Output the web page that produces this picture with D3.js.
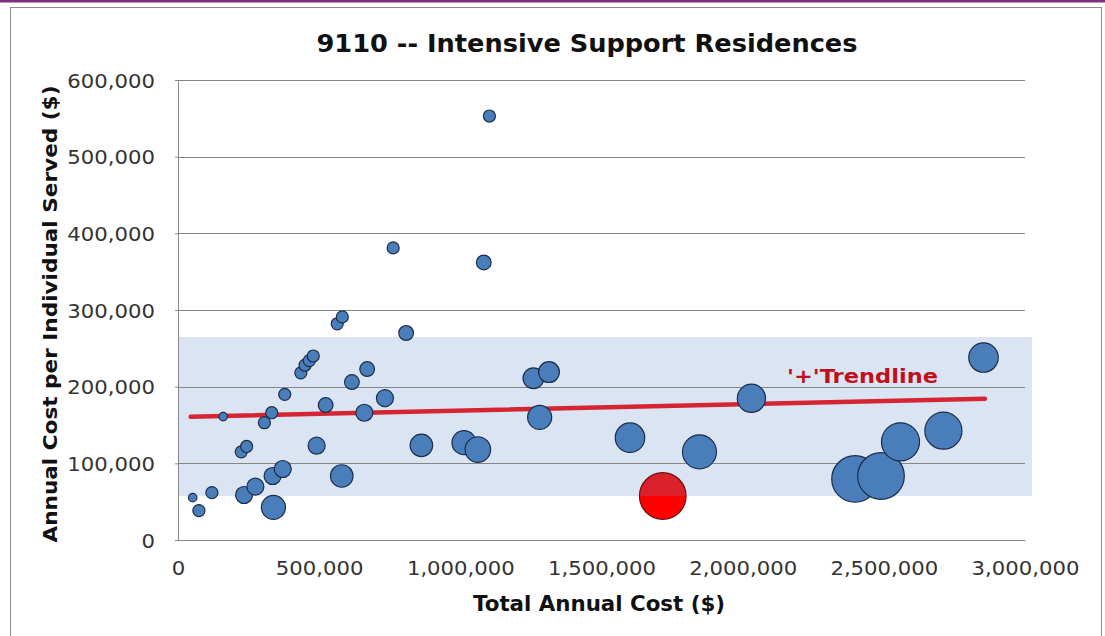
<!DOCTYPE html>
<html>
<head>
<meta charset="utf-8">
<script src="https://cdn.jsdelivr.net/npm/d3@7"></script>
<style>
  html, body { margin: 0; padding: 0; background: #ffffff; }
  svg { display: block; font-family: "DejaVu Sans", Verdana, sans-serif; }
</style>
</head>
<body>
<svg id="chart" width="1105" height="636"></svg>
<script>
// ---- Data ----
const totalCost = [52000, 74000, 120000, 160000, 224000, 234000, 243000, 274000, 306000, 332000,
  335000, 338000, 371000, 378000, 435000, 450000, 465000, 479000, 491000, 523000,
  564000, 580000, 582000, 616000, 660000, 670000, 733000, 762000, 808000, 862000,
  1013000, 1062000, 1083000, 1103000, 1259000, 1281000, 1314000, 1601000, 1717000, 1847000,
  2031000, 2398000, 2490000, 2559000, 2711000, 2853000];
const costPerIndividual = [55200, 38300, 61700, 161000, 115000, 58700, 122000, 69600, 153000, 166000,
  83500, 42600, 92600, 190000, 218000, 228000, 234000, 240000, 123000, 176000,
  282000, 83500, 291000, 206000, 166000, 223000, 185000, 381000, 270000, 123500,
  127000, 118000, 362000, 553000, 211000, 160000, 219000, 133500, 57400, 115000,
  184800, 79600, 83500, 128000, 142600, 238000];
const individualsServed = [1, 2, 2, 1, 2, 4, 2, 4, 2, 2,
  4, 8, 4, 2, 2, 2, 2, 2, 4, 3,
  2, 7, 2, 3, 4, 3, 4, 2, 3, 7,
  8, 9, 3, 2, 6, 8, 6, 12, 30, 16,
  11, 30, 30, 20, 19, 12];
const highlightedIndex = 38;                 // the red bubble
const bandX = [0, 3025000];                  // shaded range band
const bandY = [57400, 264800];
const trendX = [45000, 2858000];             // trendline end points
const trendY = [160800, 184300];
const trendLabel = "'+'Trendline";
const xTicks = [0, 500000, 1000000, 1500000, 2000000, 2500000, 3000000];
const yTicks = [0, 100000, 200000, 300000, 400000, 500000, 600000];
const titleText = "9110 -- Intensive Support Residences";
const xTitle = "Total Annual Cost ($)";
const yTitle = "Annual Cost per Individual Served ($)";

// ---- Layout ----
const svg = d3.select("#chart");
const L = 178, T = 80, R = 1025, B = 540;

const x = d3.scaleLinear().domain([0, 3000000]).range([L, R]);
const y = d3.scaleLinear().domain([0, 600000]).range([B, T]);
const r = d3.scaleSqrt().domain([0, 30]).range([0, 23.3]);
const fmt = d3.format(",");

function fit(sel, w) {
  sel.attr("textLength", w).attr("lengthAdjust", "spacingAndGlyphs");
}

// defs: gradient for highlighted bubble
const defs = svg.append("defs");
const g1 = defs.append("linearGradient").attr("id", "redGrad")
  .attr("x1", 0).attr("y1", 0).attr("x2", 0).attr("y2", 1);
g1.append("stop").attr("offset", "0%").attr("stop-color", "#d8232c");
g1.append("stop").attr("offset", "50%").attr("stop-color", "#dc1f2a");
g1.append("stop").attr("offset", "50%").attr("stop-color", "#ff0000");
g1.append("stop").attr("offset", "100%").attr("stop-color", "#ff0000");

// outer frame
svg.append("rect").attr("x", 0).attr("y", 0).attr("width", 1105).attr("height", 2.5).attr("fill", "#7e2f7d");
svg.append("rect").attr("x", 10.5).attr("y", 7.5).attr("width", 1091).attr("height", 640)
  .attr("fill", "#ffffff").attr("stroke", "#8c8c8c").attr("stroke-width", 1);

// band
svg.append("rect")
  .attr("x", x(bandX[0])).attr("y", y(bandY[1]))
  .attr("width", x(bandX[1]) - x(bandX[0]))
  .attr("height", y(bandY[0]) - y(bandY[1]))
  .attr("fill", "#dae4f2");

// gridlines
svg.append("g").selectAll("line").data(yTicks.filter(d => d > 0)).join("line")
  .attr("x1", L).attr("x2", R)
  .attr("y1", d => Math.round(y(d)) + 0.5).attr("y2", d => Math.round(y(d)) + 0.5)
  .attr("stroke", "#868686").attr("stroke-width", 1);

// axes
const yAxis = svg.append("g").attr("transform", `translate(${L},0)`)
  .call(d3.axisLeft(y).tickValues(yTicks).tickFormat(fmt).tickSize(3).tickPadding(20));
const xAxis = svg.append("g").attr("transform", `translate(0,${B})`)
  .call(d3.axisBottom(x).tickValues(xTicks).tickFormat(fmt).tickSize(0).tickPadding(21));
[yAxis, xAxis].forEach(a => {
  a.select(".domain").attr("stroke", "#868686");
  a.selectAll(".tick line").attr("stroke", "#868686");
  a.selectAll("text").attr("font-size", 20).attr("fill", "#333333")
    .attr("font-family", "'DejaVu Sans', Verdana, sans-serif")
    .each(function () { const w = this.getComputedTextLength(); fit(d3.select(this), w * 1.06); });
});
yAxis.selectAll(".tick text").attr("dy", "0.36em");

// trendline
svg.append("line")
  .attr("x1", x(trendX[0])).attr("y1", y(trendY[0]))
  .attr("x2", x(trendX[1])).attr("y2", y(trendY[1]))
  .attr("stroke", "#d52532").attr("stroke-width", 4.5).attr("stroke-linecap", "round");

// bubbles
const pts = totalCost.map((d, i) => ({ x: d, y: costPerIndividual[i], n: individualsServed[i], hi: i === highlightedIndex }));
svg.append("g").selectAll("circle").data(pts).join("circle")
  .attr("cx", d => x(d.x)).attr("cy", d => y(d.y)).attr("r", d => r(d.n))
  .attr("fill", d => d.hi ? "url(#redGrad)" : "#4a7ebb")
  .attr("stroke", d => d.hi ? "#6e1010" : "#1c2d4a")
  .attr("stroke-width", 1.2);

// trend label
svg.append("text").attr("x", 787).attr("y", 383)
  .attr("font-size", 20).attr("font-weight", "bold").attr("fill", "#c0101c")
  .text(trendLabel).call(fit, 151);

// title
svg.append("text").attr("x", 587).attr("y", 52).attr("text-anchor", "middle")
  .attr("font-size", 24).attr("font-weight", "bold").attr("fill", "#111111")
  .text(titleText).call(fit, 541);

// x title
svg.append("text").attr("x", 599).attr("y", 611).attr("text-anchor", "middle")
  .attr("font-size", 21).attr("font-weight", "bold").attr("fill", "#111111")
  .text(xTitle).call(fit, 252);

// y title
svg.append("text").attr("transform", "translate(57,314) rotate(-90)").attr("text-anchor", "middle")
  .attr("font-size", 20).attr("font-weight", "bold").attr("fill", "#111111")
  .text(yTitle).call(fit, 457);
</script>
</body>
</html>
